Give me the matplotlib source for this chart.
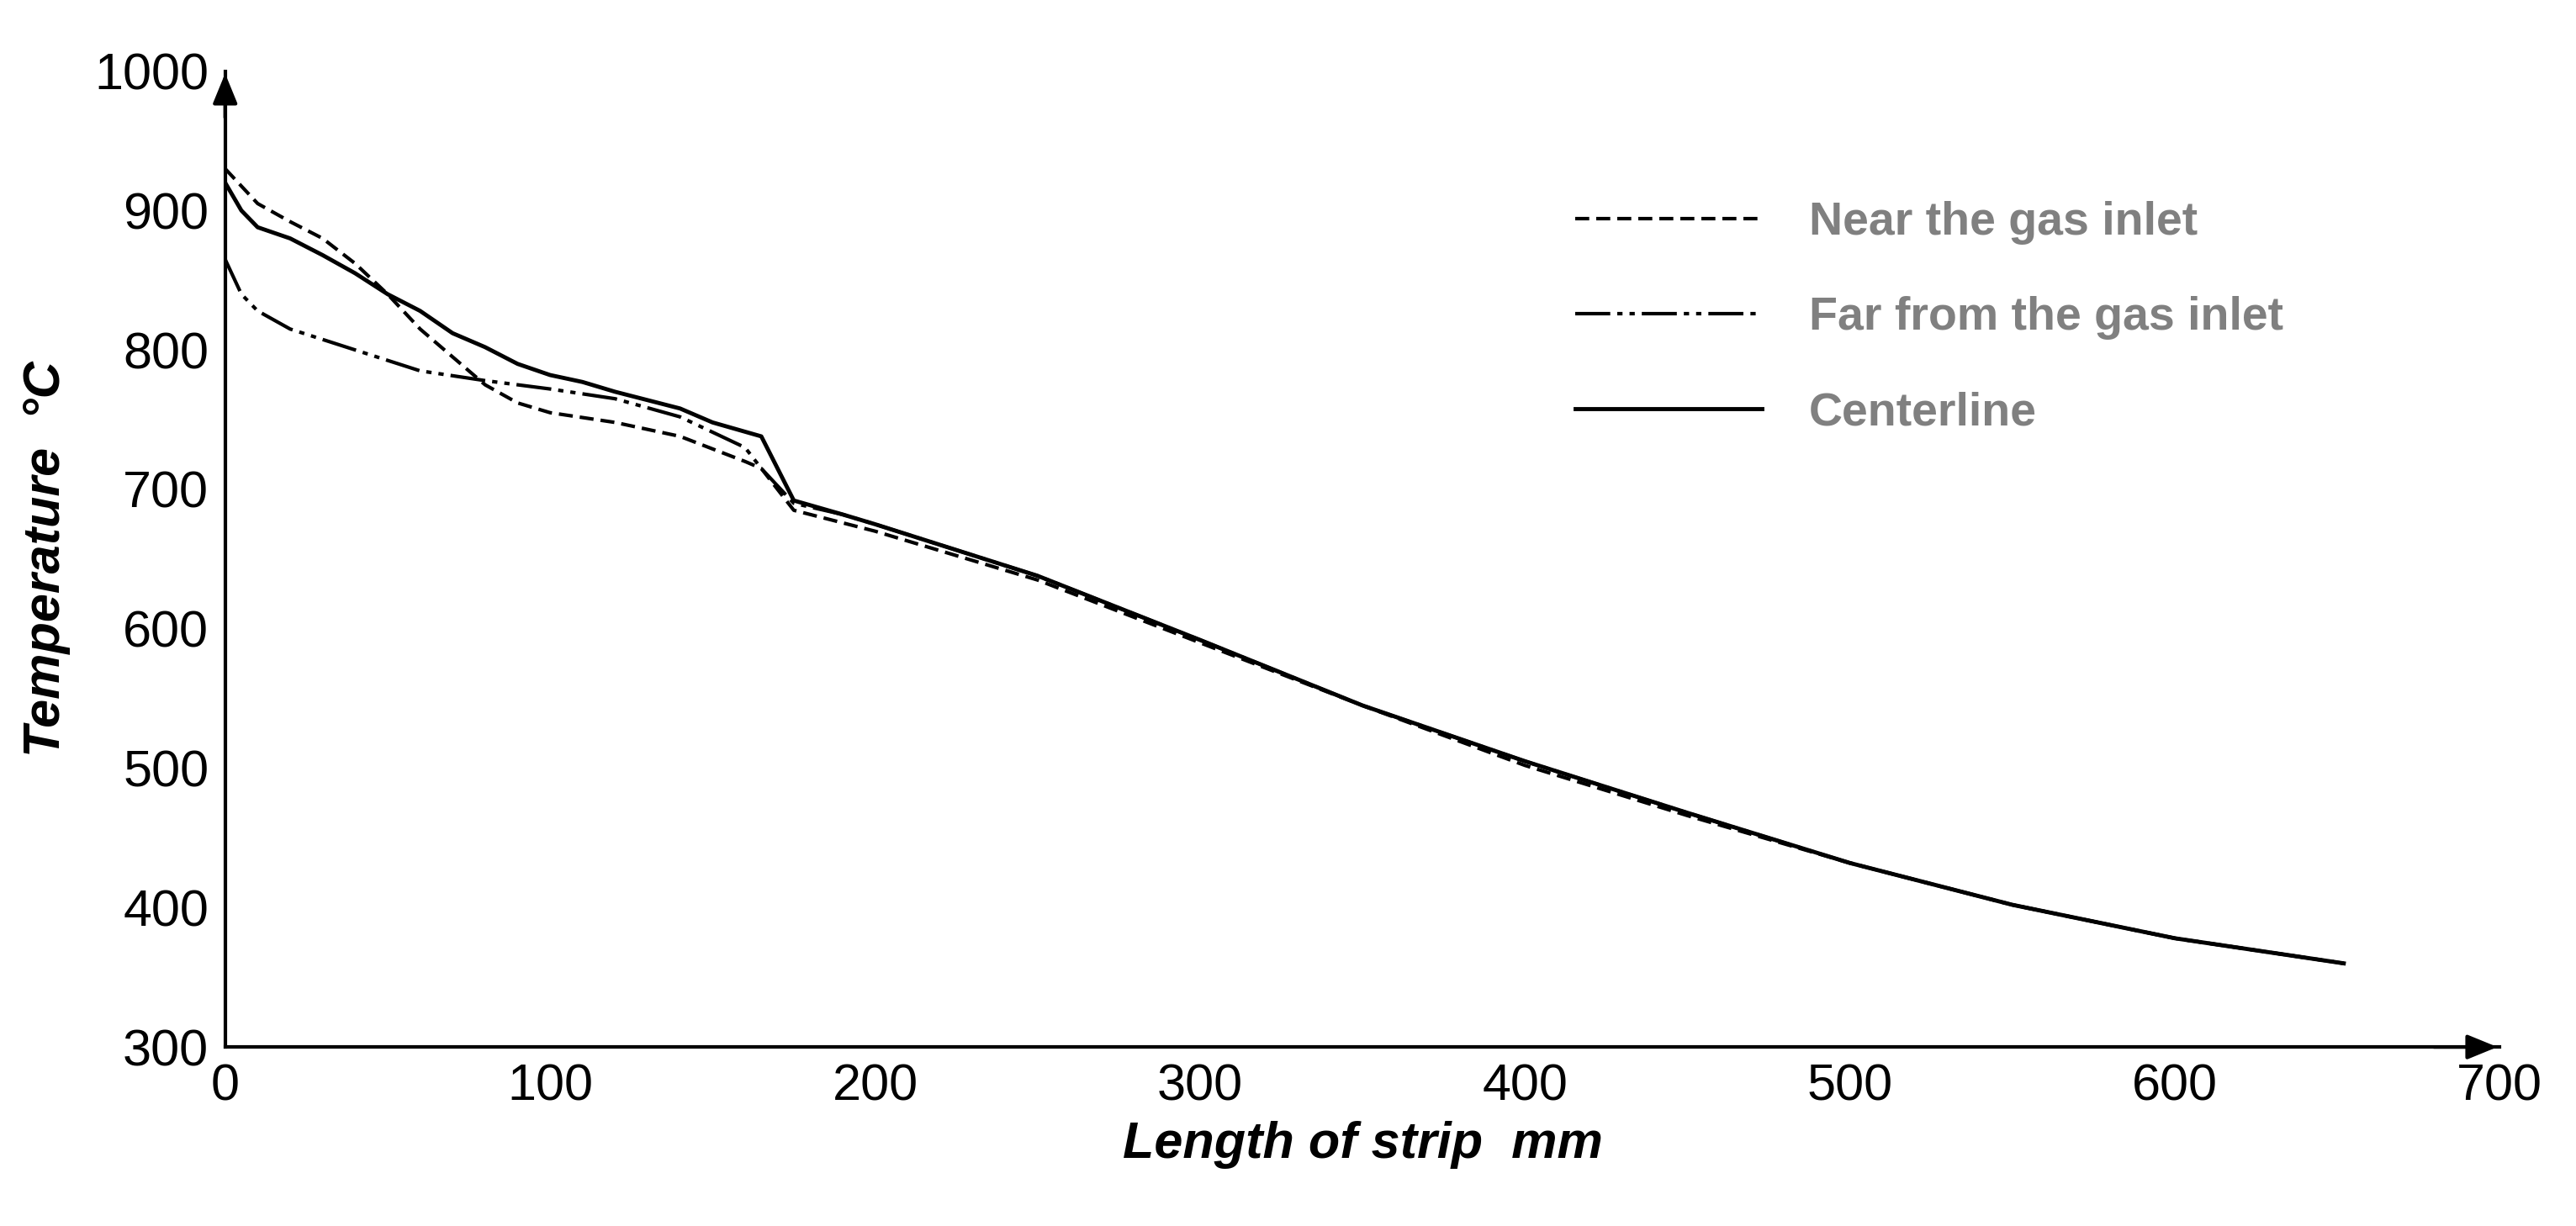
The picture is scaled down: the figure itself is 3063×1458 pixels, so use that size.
import matplotlib
matplotlib.use("Agg")
import matplotlib.pyplot as plt

plt.rcParams['font.family'] = ['Liberation Sans', 'DejaVu Sans']

x_center = [0,5,10,20,30,40,50,60,70,80,90,100,110,120,130,140,150,165,175,190,200,250,300,350,400,450,500,550,600,652]
y_center = [920,900,888,880,868,855,840,828,812,802,790,782,777,770,764,758,748,738,692,682,675,638,592,545,505,468,432,402,378,360]
x_near = [0,10,20,30,40,50,60,70,80,90,100,120,140,160,165,175,200,250,300,350,400,450,500,550,600,652]
y_near = [930,905,892,880,862,840,815,795,775,762,755,748,738,720,715,685,670,635,590,545,502,466,432,402,378,360]
x_far = [0,5,10,20,40,60,80,100,120,140,160,165,175,190,200,250,300,350,400,450,500,550,600,652]
y_far = [865,840,828,815,800,785,778,772,765,752,730,715,690,682,675,638,592,545,505,468,432,402,378,360]

fig = plt.figure(figsize=(30.63, 14.58), dpi=100)
ax = fig.add_axes([0.0874, 0.146, 0.883, 0.796])
ax.plot(x_near, y_near, color='black', lw=3, linestyle=(0, (4, 2)), label='Near the gas inlet')
ax.plot(x_far, y_far, color='black', lw=3, linestyle=(0, (10, 2, 1.5, 2, 1.5, 2)), label='Far from the gas inlet')
ax.plot(x_center, y_center, color='black', lw=3.5, label='Centerline')
ax.set_xlim(0, 700)
ax.set_ylim(300, 1000)
ax.set_xticks(range(0, 701, 100))
ax.set_yticks(range(300, 1001, 100))
ax.tick_params(length=0, labelsize=44, pad=14, labelcolor='black')
for s in ['top', 'right']:
    ax.spines[s].set_visible(False)
for s in ['left', 'bottom']:
    ax.spines[s].set_linewidth(3)
ax.annotate('', xy=(1.0, 0), xycoords='axes fraction', xytext=(0.97, 0),
            arrowprops=dict(arrowstyle='-|>,head_length=2.2,head_width=0.9', color='black', lw=3))
ax.annotate('', xy=(0, 1.0), xycoords='axes fraction', xytext=(0, 0.95),
            arrowprops=dict(arrowstyle='-|>,head_length=2.2,head_width=0.9', color='black', lw=3))
ax.set_xlabel('Length of strip  mm', fontsize=44, fontweight='bold', style='italic', labelpad=8)
ax.set_ylabel('Temperature  \u00b0C', fontsize=44, fontweight='bold', style='italic', labelpad=20)
leg = ax.legend(loc='upper left', bbox_to_anchor=(0.575, 0.91), frameon=False, fontsize=40,
                handlelength=4, labelspacing=1.1, handletextpad=1.0)
for t in leg.get_texts():
    t.set_color('#808080')
    t.set_fontweight('bold')
fig.savefig('out.png', dpi=100)
